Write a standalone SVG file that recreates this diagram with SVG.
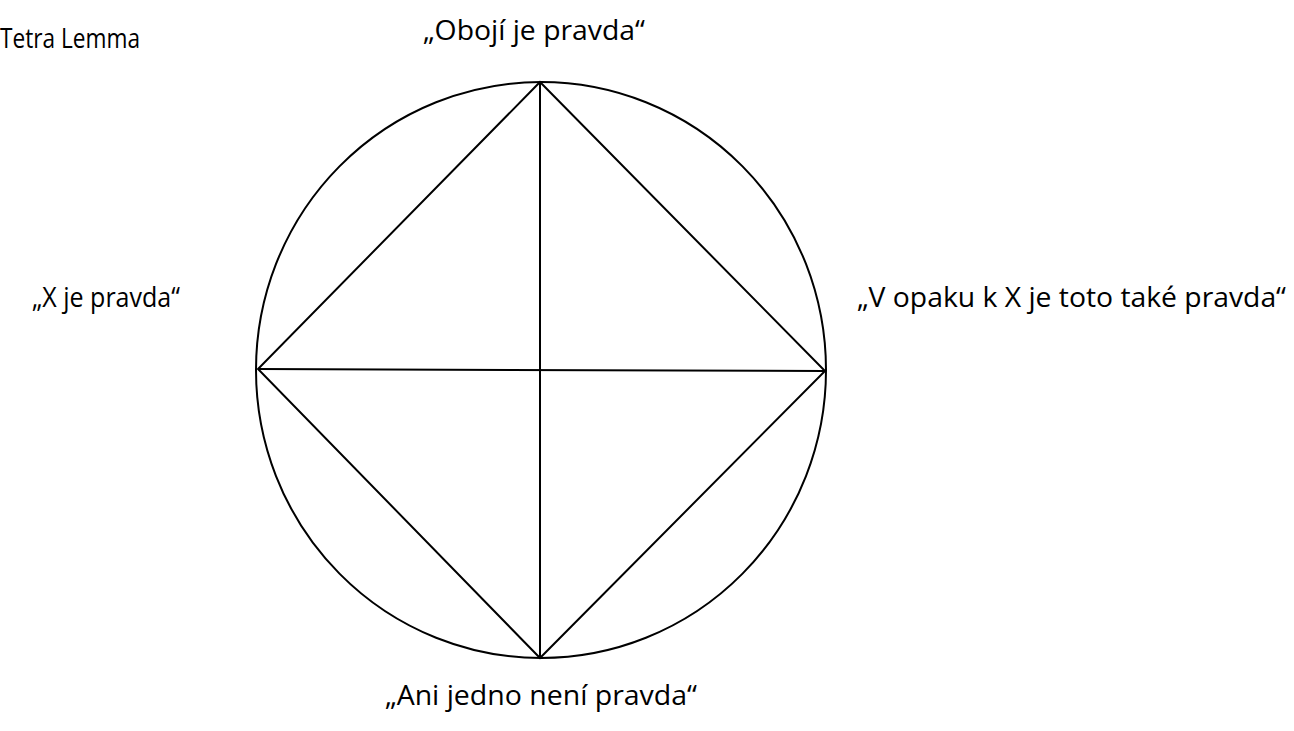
<svg xmlns="http://www.w3.org/2000/svg" width="1294" height="731" viewBox="0 0 1294 731">
<style>
.lbl{font-family:"Open Sans","Noto Sans","Liberation Sans",sans-serif;font-size:27px;fill:#000}
.ln{stroke:#000;stroke-width:2;fill:none}
</style>
<rect width="1294" height="731" fill="#fff"/>
<g id="title"><text class="lbl" x="0" y="48" textLength="140" lengthAdjust="spacingAndGlyphs">Tetra Lemma</text></g>
<g id="circle"><ellipse class="ln" cx="541" cy="370" rx="285" ry="288"/></g>
<g id="connectors">
<polygon class="ln" points="540,82 825,371 540,658 258,369"/>
<line class="ln" x1="540" y1="82" x2="540" y2="658"/>
<line class="ln" x1="258" y1="369" x2="825" y2="371"/>
</g>
<g id="top"><text class="lbl" x="423" y="40" textLength="222" lengthAdjust="spacingAndGlyphs">„Obojí je pravda“</text></g>
<g id="left"><text class="lbl" x="32" y="307" textLength="148" lengthAdjust="spacingAndGlyphs">„X je pravda“</text></g>
<g id="right"><text class="lbl" x="857" y="307" textLength="429" lengthAdjust="spacingAndGlyphs">„V opaku k X je toto také pravda“</text></g>
<g id="bottom"><text class="lbl" x="385" y="705" textLength="312" lengthAdjust="spacingAndGlyphs">„Ani jedno není pravda“</text></g>
</svg>
